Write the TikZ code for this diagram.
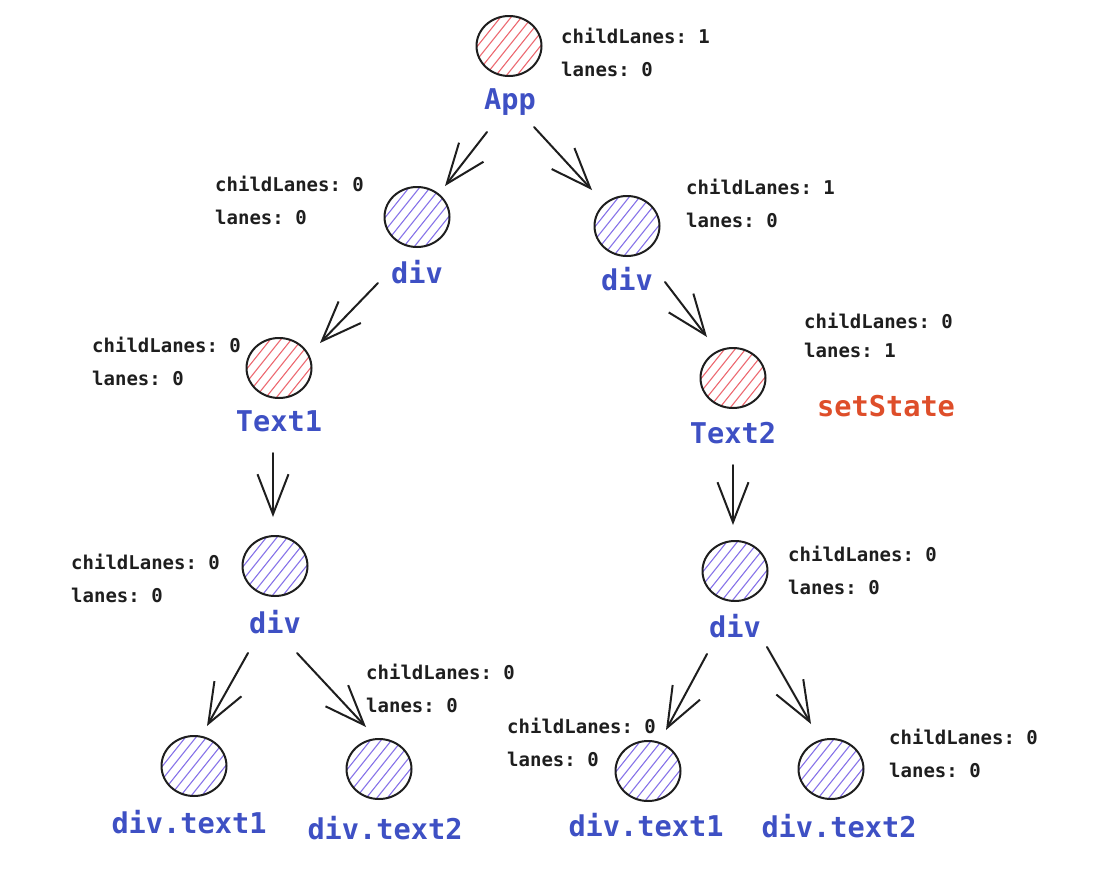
\documentclass[tikz,border=0pt]{standalone}
\usepackage{fontspec}
\setmonofont{DejaVu Sans Mono}
\usetikzlibrary{arrows.meta,shapes.geometric,calc}
\definecolor{lblblue}{RGB}{62,80,196}
\definecolor{statecol}{RGB}{222,78,42}
\definecolor{hred}{RGB}{236,104,112}
\definecolor{hpurple}{RGB}{134,114,232}
\definecolor{ink}{RGB}{30,30,30}
\tikzset{
  fnode/.style={ellipse, draw=ink, line width=2pt, minimum width=65pt, minimum height=60pt, inner sep=0pt},
  hatchred/.style={fnode, path picture={\foreach \i in {-7,...,7} \draw[hred, line width=1.1pt] ($(path picture bounding box.center)+(\i*10.5pt-28pt,-35pt)$) -- ++(56pt,70pt);}},
  hatchpur/.style={fnode, path picture={\foreach \i in {-7,...,7} \draw[hpurple, line width=1.1pt] ($(path picture bounding box.center)+(\i*10.5pt-28pt,-35pt)$) -- ++(56pt,70pt);}},
  lbl/.style={text=lblblue, font=\fontsize{28.6}{32}\selectfont\ttfamily\bfseries, inner sep=0pt},
  info/.style={text=ink, anchor=west, font=\fontsize{19}{22}\selectfont\ttfamily\bfseries, inner sep=0pt},
  statelbl/.style={text=statecol, anchor=west, font=\fontsize{28.6}{32}\selectfont\ttfamily\bfseries, inner sep=0pt},
  edge/.style={draw=ink, line width=2pt, line cap=round, -{Straight Barb[length=40pt,width=31pt,line width=2pt]}},
}
\begin{document}
\begin{tikzpicture}[x=1pt,y=-1pt]
\useasboundingbox (0,0) rectangle (1098,889);
% nodes
\node[hatchred] (app) at (509,46) {};
\node[lbl] (appl) at (510,102) {App};
\node[info] (appc) at (561,36) {childLanes: 1};
\node[info] (appn) at (561,69) {lanes: 0};

\node[hatchpur] (d1) at (417,217) {};
\node[lbl] (d1l) at (417,272) {div};
\node[info] (d1c) at (215,184) {childLanes: 0};
\node[info] (d1n) at (215,217) {lanes: 0};

\node[hatchpur] (d2) at (627,226) {};
\node[lbl] (d2l) at (627,279) {div};
\node[info] (d2c) at (686,187) {childLanes: 1};
\node[info] (d2n) at (686,220) {lanes: 0};

\node[hatchred] (t1) at (279,368) {};
\node[lbl] (t1l) at (279,421) {Text1};
\node[info] (t1c) at (92,345) {childLanes: 0};
\node[info] (t1n) at (92,378) {lanes: 0};

\node[hatchred] (t2) at (733,378) {};
\node[lbl] (t2l) at (733,433) {Text2};
\node[info] (t2c) at (804,321) {childLanes: 0};
\node[info] (t2n) at (804,350) {lanes: 1};
\node[statelbl] (ss) at (817,406) {setState};

\node[hatchpur] (d3) at (275,566) {};
\node[lbl] (d3l) at (275,622) {div};
\node[info] (d3c) at (71,562) {childLanes: 0};
\node[info] (d3n) at (71,595) {lanes: 0};

\node[hatchpur] (d4) at (735,571) {};
\node[lbl] (d4l) at (735,626) {div};
\node[info] (d4c) at (788,554) {childLanes: 0};
\node[info] (d4n) at (788,587) {lanes: 0};

\node[hatchpur] (a1) at (194,766) {};
\node[lbl] (a1l) at (189,822) {div.text1};

\node[hatchpur] (a2) at (379,769) {};
\node[lbl] (a2l) at (385,828) {div.text2};
\node[info] (a2c) at (366,672) {childLanes: 0};
\node[info] (a2n) at (366,705) {lanes: 0};

\node[hatchpur] (b1) at (648,771) {};
\node[lbl] (b1l) at (646,825) {div.text1};
\node[info] (b1c) at (507,726) {childLanes: 0};
\node[info] (b1n) at (507,759) {lanes: 0};

\node[hatchpur] (b2) at (831,769) {};
\node[lbl] (b2l) at (839,826) {div.text2};
\node[info] (b2c) at (889,737) {childLanes: 0};
\node[info] (b2n) at (889,770) {lanes: 0};

% connector end points
\coordinate (e1s) at (487,132); \coordinate (e1t) at (445,186);
\coordinate (e2s) at (534,127); \coordinate (e2t) at (592,190);
\coordinate (e3s) at (378,283); \coordinate (e3t) at (320,343);
\coordinate (e4s) at (665,282); \coordinate (e4t) at (707,337);
\coordinate (e5s) at (273,453); \coordinate (e5t) at (273,517);
\coordinate (e6s) at (733,465); \coordinate (e6t) at (733,525);
\coordinate (e7s) at (248,653); \coordinate (e7t) at (207,726);
\coordinate (e8s) at (297,653); \coordinate (e8t) at (366,727);
\coordinate (e9s) at (707,654); \coordinate (e9t) at (666,730);
\coordinate (e10s) at (767,647); \coordinate (e10t) at (811,724);

\draw[edge] (e1s) -- (e1t);
\draw[edge] (e2s) -- (e2t);
\draw[edge] (e3s) -- (e3t);
\draw[edge] (e4s) -- (e4t);
\draw[edge] (e5s) -- (e5t);
\draw[edge] (e6s) -- (e6t);
\draw[edge] (e7s) -- (e7t);
\draw[edge] (e8s) -- (e8t);
\draw[edge] (e9s) -- (e9t);
\draw[edge] (e10s) -- (e10t);
\end{tikzpicture}
\end{document}
